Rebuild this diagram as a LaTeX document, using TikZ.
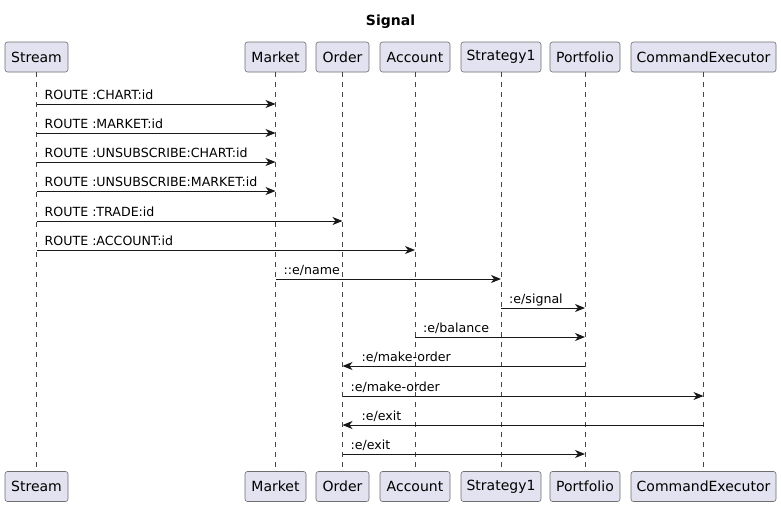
\documentclass[tikz,border=0pt]{standalone}
\usepackage{fontspec}
\setmainfont{DejaVu Sans}
\usetikzlibrary{arrows.meta}
\definecolor{boxfill}{HTML}{E2E2F0}
\definecolor{ink}{HTML}{181818}
\definecolor{edge}{HTML}{6E6E6E}
\tikzset{
  part/.style={draw=edge, line width=0.6pt, fill=boxfill, rounded corners=2.5pt, minimum height=30pt, inner sep=0pt, font=\fontsize{14}{16}\selectfont},
  life/.style={draw=ink!80, line width=0.5pt, dash pattern=on 5pt off 5pt},
  msg/.style={draw=ink, line width=1pt, -{Stealth[length=10pt,width=8pt,inset=3pt]}},
  lbl/.style={font=\fontsize{12.6}{15}\selectfont, inner sep=0pt, anchor=base west, text=black},
}
\begin{document}
\begin{tikzpicture}[x=1pt,y=-1pt]
\useasboundingbox (0,0) rectangle (781,506);
\node[font=\bfseries\fontsize{14}{16}\selectfont] (title) at (390.5,22) {Signal};
% top participants
\node[part, minimum width=63pt]  (sT) at (36.5,57) {Stream};
\node[part, minimum width=61pt]  (mT) at (275.5,57) {Market};
\node[part, minimum width=53pt]  (oT) at (342.5,57) {Order};
\node[part, minimum width=70pt]  (aT) at (415,57) {Account};
\node[part, minimum width=80pt]  (gT) at (501,57) {Strategy1};
\node[part, minimum width=70pt]  (pT) at (585,57) {Portfolio};
\node[part, minimum width=145pt] (cT) at (703.5,57) {CommandExecutor};
% bottom participants
\node[part, minimum width=63pt]  (sB) at (36.5,486.5) {Stream};
\node[part, minimum width=61pt]  (mB) at (275.5,486.5) {Market};
\node[part, minimum width=53pt]  (oB) at (342.5,486.5) {Order};
\node[part, minimum width=70pt]  (aB) at (415,486.5) {Account};
\node[part, minimum width=80pt]  (gB) at (501,486.5) {Strategy1};
\node[part, minimum width=70pt]  (pB) at (585,486.5) {Portfolio};
\node[part, minimum width=145pt] (cB) at (703.5,486.5) {CommandExecutor};
% lifelines
\foreach \p in {s,m,o,a,g,p,c} {
  \draw[life] (\p T.south) -- (\p B.north);
}
% messages
\draw[msg] (sT |- 0,104) -- (mT |- 0,104);
\node[lbl] (l1) at ([xshift=8pt]sT |- 0,99) {ROUTE :CHART:id};
\draw[msg] (sT |- 0,133) -- (mT |- 0,133);
\node[lbl] (l2) at ([xshift=8pt]sT |- 0,128) {ROUTE :MARKET:id};
\draw[msg] (sT |- 0,162) -- (mT |- 0,162);
\node[lbl] (l3) at ([xshift=8pt]sT |- 0,157) {ROUTE :UNSUBSCRIBE:CHART:id};
\draw[msg] (sT |- 0,191) -- (mT |- 0,191);
\node[lbl] (l4) at ([xshift=8pt]sT |- 0,186) {ROUTE :UNSUBSCRIBE:MARKET:id};
\draw[msg] (sT |- 0,221) -- (oT |- 0,221);
\node[lbl] (l5) at ([xshift=8pt]sT |- 0,216) {ROUTE :TRADE:id};
\draw[msg] (sT |- 0,250) -- (aT |- 0,250);
\node[lbl] (l6) at ([xshift=8pt]sT |- 0,245) {ROUTE :ACCOUNT:id};
\draw[msg] (mT |- 0,279) -- (gT |- 0,279);
\node[lbl] (l7) at ([xshift=8pt]mT |- 0,274) {::e/name};
\draw[msg] (gT |- 0,308) -- (pT |- 0,308);
\node[lbl] (l8) at ([xshift=8pt]gT |- 0,303) {:e/signal};
\draw[msg] (aT |- 0,337) -- (pT |- 0,337);
\node[lbl] (l9) at ([xshift=8pt]aT |- 0,332) {:e/balance};
\draw[msg] (pT |- 0,366) -- (oT |- 0,366);
\node[lbl] (l10) at ([xshift=19pt]oT |- 0,361) {:e/make-order};
\draw[msg] (oT |- 0,396) -- (cT |- 0,396);
\node[lbl] (l11) at ([xshift=8pt]oT |- 0,391) {:e/make-order};
\draw[msg] (cT |- 0,425) -- (oT |- 0,425);
\node[lbl] (l12) at ([xshift=19pt]oT |- 0,420) {:e/exit};
\draw[msg] (oT |- 0,454) -- (pT |- 0,454);
\node[lbl] (l13) at ([xshift=8pt]oT |- 0,449) {:e/exit};
\end{tikzpicture}
\end{document}
